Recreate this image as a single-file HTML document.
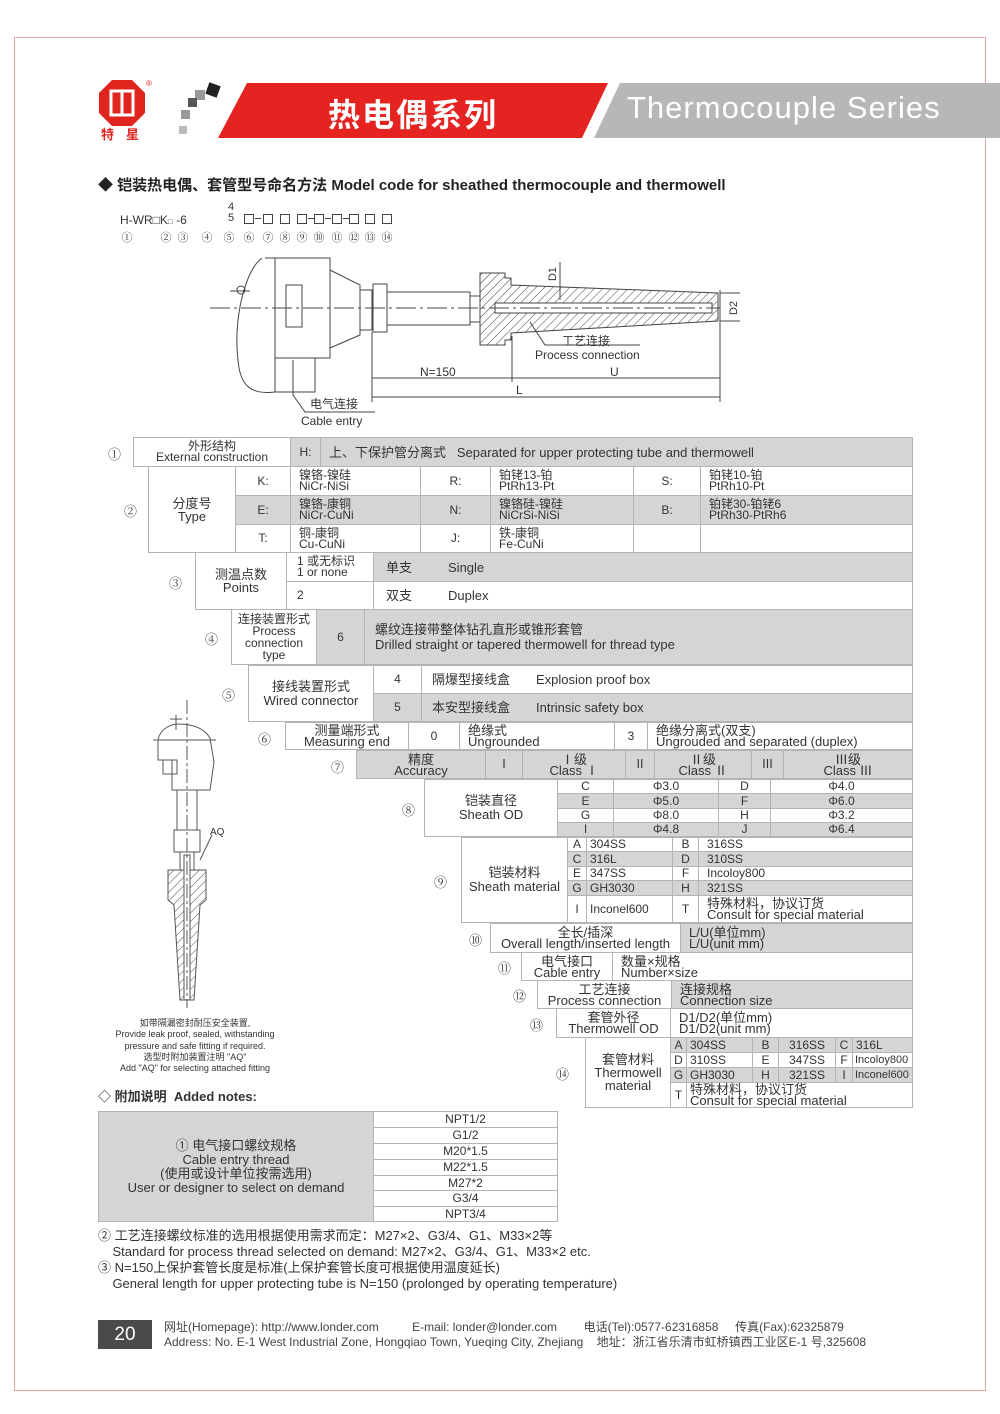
<!DOCTYPE html>
<html><head><meta charset="utf-8">
<style>
*{margin:0;padding:0;box-sizing:border-box}
body{width:1000px;height:1414px;background:#fff;position:relative;overflow:hidden;font-family:"Liberation Sans","Noto Sans CJK SC",sans-serif;color:#333}
.a{position:absolute;white-space:nowrap}
.c{position:absolute;border:1px solid #b4b4b4;font-size:12px;line-height:11px;display:flex;align-items:center;padding-left:8px;white-space:nowrap;background:#fff}
.g{background:#d5d5d5}
.m{justify-content:center;text-align:center;padding-left:0}
.n{position:absolute;font-size:13px;font-family:"DejaVu Serif","Noto Serif CJK SC",serif}
.s{font-size:11px;line-height:11px}
.q{position:absolute;font-size:11px;font-family:"DejaVu Serif","Noto Serif CJK SC",serif;width:16px;text-align:center;top:229px}
.b{position:absolute;top:214px;width:10px;height:10px;border:1px solid #444}
.d{position:absolute;top:218px;width:6px;height:1px;background:#444}
</style></head><body>
<div class="a" style="left:14px;top:37px;width:972px;height:1354px;border:1px solid #e9a8a8"></div>

<!-- logo -->
<svg class="a" style="left:95px;top:76px" width="150" height="70">
<polygon points="17,4 37,4 50,17 50,37 37,50 17,50 4,37 4,17" fill="#e0251f"/>
<rect x="16" y="15" width="22" height="24" fill="none" stroke="#fff" stroke-width="3"/>
<line x1="27" y1="15" x2="27" y2="39" stroke="#fff" stroke-width="3"/>
<text x="51" y="10" font-size="8" fill="#e0251f">®</text>
<rect x="112" y="8" width="12" height="12" fill="#222" transform="rotate(20 118 14)"/>
<rect x="100" y="14" width="10" height="10" fill="#999"/>
<rect x="93" y="22" width="9" height="9" fill="#555"/>
<rect x="86" y="34" width="9" height="9" fill="#999"/>
<rect x="84" y="50" width="8" height="8" fill="#bbb"/>
</svg>
<div class="a" style="left:101px;top:124px;font-size:13px;font-weight:bold;color:#e0251f;letter-spacing:12px">特星</div>
<svg class="a" style="left:0;top:0" width="1000" height="150">
<polygon points="247,83 608,83 582,138 218,138" fill="#e52421"/>
<polygon points="620,83 1000,83 1000,138 594,138" fill="#b7b7b7"/>
</svg>
<div class="a" style="left:328px;top:90px;font-size:32px;font-weight:bold;color:#fff;letter-spacing:2px">热电偶系列</div>
<div class="a" style="left:627px;top:90px;font-size:31px;color:#fff;letter-spacing:1px">Thermocouple Series</div>

<div class="a" style="left:98px;top:174px;font-size:15px;font-weight:bold;color:#222">◆ 铠装热电偶、套管型号命名方法 Model code for sheathed thermocouple and thermowell</div>

<div class="a" style="left:120px;top:213px;font-size:12px">H-WR□K<span style="font-size:8px">□</span> -6</div>
<div class="a" style="left:228px;top:202px;font-size:11px;line-height:11px">4<br>5</div>
<div class="b" style="left:244px"></div>
<div class="d" style="left:255px"></div>
<div class="b" style="left:263px"></div>
<div class="b" style="left:280px"></div>
<div class="b" style="left:297px"></div>
<div class="d" style="left:308px"></div>
<div class="b" style="left:314px"></div>
<div class="d" style="left:325px"></div>
<div class="b" style="left:332px"></div>
<div class="d" style="left:343px"></div>
<div class="b" style="left:349px"></div>
<div class="b" style="left:365px"></div>
<div class="b" style="left:382px"></div>
<div class="q" style="left:119px">①</div>
<div class="q" style="left:158px">②</div>
<div class="q" style="left:175px">③</div>
<div class="q" style="left:199px">④</div>
<div class="q" style="left:221px">⑤</div>
<div class="q" style="left:241px">⑥</div>
<div class="q" style="left:260px">⑦</div>
<div class="q" style="left:277px">⑧</div>
<div class="q" style="left:294px">⑨</div>
<div class="q" style="left:311px">⑩</div>
<div class="q" style="left:329px">⑪</div>
<div class="q" style="left:346px">⑫</div>
<div class="q" style="left:362px">⑬</div>
<div class="q" style="left:379px">⑭</div>

<!-- top drawing -->
<svg class="a" style="left:0;top:0" width="1000" height="440" fill="none" stroke="#444" stroke-width="1">
<defs><pattern id="h" width="6" height="6" patternUnits="userSpaceOnUse" patternTransform="rotate(45)"><line x1="0" y1="0" x2="0" y2="6" stroke="#444"/></pattern></defs>
<path d="M262,258 C245,270 233,320 238,360 C240,385 250,395 275,392"/>
<path d="M265,258 L275,258 L275,392"/>
<rect x="275" y="258" width="55" height="100"/>
<rect x="275" y="358" width="40" height="34"/>
<path d="M330,270 L360,285 L360,335 L330,348"/>
<rect x="360" y="290" width="12" height="40"/>
<rect x="373" y="284" width="14" height="48"/>
<rect x="286" y="285" width="16" height="42"/>
<line x1="230" y1="291" x2="250" y2="291"/>
<circle cx="241" cy="290" r="4"/>
<rect x="387" y="292" width="83" height="33"/>
<rect x="470" y="296" width="10" height="26"/>
<path d="M480,273 L505,273 L505,278 L511,278 L511,285 L718,293 L718,321 L511,333 L511,340 L505,340 L505,345 L480,345 Z" fill="url(#h)"/>
<rect x="495" y="303" width="217" height="10" fill="#fff" stroke="#444"/>
<line x1="210" y1="308" x2="720" y2="308" stroke-dasharray="20,4,3,4"/>
<line x1="372" y1="332" x2="372" y2="402"/>
<line x1="512" y1="336" x2="512" y2="382"/>
<line x1="720" y1="290" x2="720" y2="402"/>
<line x1="372" y1="378" x2="720" y2="378"/>
<line x1="372" y1="397" x2="720" y2="397"/>
<line x1="720" y1="293" x2="740" y2="293"/><line x1="720" y1="321" x2="740" y2="321"/>
<line x1="560" y1="262" x2="560" y2="300"/>
<path d="M530,322 L545,345 L640,345"/>
<path d="M293,360 L293,395 L305,412 L375,412"/>
</svg>
<div class="a" style="left:420px;top:365px;font-size:12px">N=150</div>
<div class="a" style="left:610px;top:365px;font-size:12px">U</div>
<div class="a" style="left:516px;top:383px;font-size:12px">L</div>
<div class="a" style="left:562px;top:332px;font-size:12px">工艺连接</div>
<div class="a" style="left:535px;top:348px;font-size:12px">Process connection</div>
<div class="a" style="left:310px;top:395px;font-size:12px">电气连接</div>
<div class="a" style="left:301px;top:414px;font-size:12px">Cable entry</div>
<div class="a" style="left:546px;top:268px;font-size:11px;transform:rotate(-90deg)">D1</div>
<div class="a" style="left:727px;top:302px;font-size:11px;transform:rotate(-90deg)">D2</div>

<!-- circled numbers -->
<div class="n" style="left:108px;top:444px">①</div>
<div class="n" style="left:124px;top:501px">②</div>
<div class="n" style="left:169px;top:573px">③</div>
<div class="n" style="left:205px;top:629px">④</div>
<div class="n" style="left:222px;top:685px">⑤</div>
<div class="n" style="left:258px;top:729px">⑥</div>
<div class="n" style="left:331px;top:757px">⑦</div>
<div class="n" style="left:402px;top:800px">⑧</div>
<div class="n" style="left:434px;top:872px">⑨</div>
<div class="n" style="left:469px;top:930px">⑩</div>
<div class="n" style="left:498px;top:958px">⑪</div>
<div class="n" style="left:513px;top:986px">⑫</div>
<div class="n" style="left:530px;top:1015px">⑬</div>
<div class="n" style="left:556px;top:1064px">⑭</div>

<!-- row 1 -->
<div class="c m" style="left:133px;top:437px;width:158px;height:30px">外形结构<br>External construction</div>
<div class="c g m" style="left:290px;top:437px;width:31px;height:30px">H:</div>
<div class="c g" style="left:320px;top:437px;width:593px;height:30px;font-size:13px">上、下保护管分离式 &nbsp; Separated for upper protecting tube and thermowell</div>
<!-- row 2 -->
<div class="c m" style="left:148px;top:466px;width:88px;height:87px;font-size:13px;line-height:13px">分度号<br>Type</div>
<div class="c m" style="left:235px;top:466px;width:56px;height:30px">K:</div><div class="c" style="left:290px;top:466px;width:131px;height:30px">镍铬-镍硅<br>NiCr-NiSi</div><div class="c m" style="left:420px;top:466px;width:71px;height:30px">R:</div><div class="c" style="left:490px;top:466px;width:144px;height:30px">铂铑13-铂<br>PtRh13-Pt</div><div class="c m" style="left:633px;top:466px;width:68px;height:30px">S:</div><div class="c" style="left:700px;top:466px;width:213px;height:30px">铂铑10-铂<br>PtRh10-Pt</div>
<div class="c g m" style="left:235px;top:495px;width:56px;height:30px">E:</div><div class="c g" style="left:290px;top:495px;width:131px;height:30px">镍铬-康铜<br>NiCr-CuNi</div><div class="c g m" style="left:420px;top:495px;width:71px;height:30px">N:</div><div class="c g" style="left:490px;top:495px;width:144px;height:30px">镍铬硅-镍硅<br>NiCrSi-NiSi</div><div class="c g m" style="left:633px;top:495px;width:68px;height:30px">B:</div><div class="c g" style="left:700px;top:495px;width:213px;height:30px">铂铑30-铂铑6<br>PtRh30-PtRh6</div>
<div class="c m" style="left:235px;top:524px;width:56px;height:29px">T:</div><div class="c" style="left:290px;top:524px;width:131px;height:29px">铜-康铜<br>Cu-CuNi</div><div class="c m" style="left:420px;top:524px;width:71px;height:29px">J:</div><div class="c" style="left:490px;top:524px;width:144px;height:29px">铁-康铜<br>Fe-CuNi</div><div class="c" style="left:633px;top:524px;width:68px;height:29px"></div><div class="c" style="left:700px;top:524px;width:213px;height:29px"></div>
<!-- row 3 -->
<div class="c m" style="left:195px;top:552px;width:92px;height:58px;font-size:13px;line-height:13px">测温点数<br>Points</div>
<div class="c" style="left:286px;top:552px;width:88px;height:30px;padding-left:10px">1 或无标识<br>1 or none</div>
<div class="c g" style="left:373px;top:552px;width:540px;height:30px;font-size:13px;padding-left:12px">单支<span style="margin-left:36px">Single</span></div>
<div class="c" style="left:286px;top:581px;width:88px;height:29px;padding-left:10px">2</div>
<div class="c" style="left:373px;top:581px;width:540px;height:29px;font-size:13px;padding-left:12px">双支<span style="margin-left:36px">Duplex</span></div>
<!-- row 4 -->
<div class="c m" style="left:231px;top:609px;width:86px;height:56px;line-height:12px;font-size:12px">连接装置形式<br>Process<br>connection<br>type</div>
<div class="c g m" style="left:316px;top:609px;width:49px;height:56px">6</div>
<div class="c g" style="left:364px;top:609px;width:549px;height:56px;font-size:13px;line-height:15px;padding-left:10px">螺纹连接带整体钻孔直形或锥形套管<br>Drilled straight or tapered thermowell for thread type</div>
<!-- row 5 -->
<div class="c m" style="left:248px;top:665px;width:126px;height:57px;font-size:13px;line-height:14px">接线装置形式<br>Wired connector</div>
<div class="c m" style="left:373px;top:665px;width:49px;height:29px">4</div>
<div class="c" style="left:421px;top:665px;width:492px;height:29px;font-size:13px;padding-left:10px">隔爆型接线盒<span style="margin-left:26px">Explosion proof box</span></div>
<div class="c g m" style="left:373px;top:693px;width:49px;height:29px">5</div>
<div class="c g" style="left:421px;top:693px;width:492px;height:29px;font-size:13px;padding-left:10px">本安型接线盒<span style="margin-left:26px">Intrinsic safety box</span></div>
<!-- row 6 -->
<div class="c m" style="left:285px;top:722px;width:124px;height:28px;font-size:13px">测量端形式<br>Measuring end</div>
<div class="c m" style="left:408px;top:722px;width:52px;height:28px">0</div>
<div class="c" style="left:459px;top:722px;width:156px;height:28px;font-size:13px">绝缘式<br>Ungrounded</div>
<div class="c m" style="left:614px;top:722px;width:34px;height:28px">3</div>
<div class="c" style="left:647px;top:722px;width:266px;height:28px;font-size:13px">绝缘分离式(双支)<br>Ungrouded and separated (duplex)</div>
<!-- row 7 -->
<div class="c g m" style="left:356px;top:750px;width:130px;height:29px;font-size:13px">精度<br>Accuracy</div>
<div class="c g m" style="left:485px;top:750px;width:38px;height:29px">Ⅰ</div>
<div class="c g m" style="left:522px;top:750px;width:104px;height:29px;font-size:13px">Ⅰ级<br>Class Ⅰ</div>
<div class="c g m" style="left:625px;top:750px;width:30px;height:29px">Ⅱ</div>
<div class="c g m" style="left:654px;top:750px;width:98px;height:29px;font-size:13px">Ⅱ级<br>Class Ⅱ</div>
<div class="c g m" style="left:751px;top:750px;width:33px;height:29px">Ⅲ</div>
<div class="c g m" style="left:783px;top:750px;width:130px;height:29px;font-size:13px">Ⅲ级<br>Class Ⅲ</div>
<!-- row 8 -->
<div class="c m" style="left:424px;top:779px;width:134px;height:58px;font-size:13px;line-height:14px">铠装直径<br>Sheath OD</div>
<div class="c m" style="left:557px;top:779px;width:57px;height:15px">C</div><div class="c m" style="left:613px;top:779px;width:106px;height:15px">Φ3.0</div><div class="c m" style="left:718px;top:779px;width:53px;height:15px">D</div><div class="c m" style="left:770px;top:779px;width:143px;height:15px">Φ4.0</div>
<div class="c g m" style="left:557px;top:793px;width:57px;height:16px">E</div><div class="c g m" style="left:613px;top:793px;width:106px;height:16px">Φ5.0</div><div class="c g m" style="left:718px;top:793px;width:53px;height:16px">F</div><div class="c g m" style="left:770px;top:793px;width:143px;height:16px">Φ6.0</div>
<div class="c m" style="left:557px;top:808px;width:57px;height:15px">G</div><div class="c m" style="left:613px;top:808px;width:106px;height:15px">Φ8.0</div><div class="c m" style="left:718px;top:808px;width:53px;height:15px">H</div><div class="c m" style="left:770px;top:808px;width:143px;height:15px">Φ3.2</div>
<div class="c g m" style="left:557px;top:822px;width:57px;height:15px">I</div><div class="c g m" style="left:613px;top:822px;width:106px;height:15px">Φ4.8</div><div class="c g m" style="left:718px;top:822px;width:53px;height:15px">J</div><div class="c g m" style="left:770px;top:822px;width:143px;height:15px">Φ6.4</div>
<!-- row 9 -->
<div class="c m" style="left:461px;top:837px;width:107px;height:86px;font-size:13px;line-height:14px">铠装材料<br>Sheath material</div>
<div class="c m" style="left:567px;top:837px;width:20px;height:15px">A</div><div class="c" style="left:586px;top:837px;width:87px;height:15px;padding-left:3px">304SS</div><div class="c m" style="left:672px;top:837px;width:27px;height:15px">B</div><div class="c" style="left:698px;top:837px;width:215px;height:15px">316SS</div>
<div class="c g m" style="left:567px;top:851px;width:20px;height:16px">C</div><div class="c g" style="left:586px;top:851px;width:87px;height:16px;padding-left:3px">316L</div><div class="c g m" style="left:672px;top:851px;width:27px;height:16px">D</div><div class="c g" style="left:698px;top:851px;width:215px;height:16px">310SS</div>
<div class="c m" style="left:567px;top:866px;width:20px;height:15px">E</div><div class="c" style="left:586px;top:866px;width:87px;height:15px;padding-left:3px">347SS</div><div class="c m" style="left:672px;top:866px;width:27px;height:15px">F</div><div class="c" style="left:698px;top:866px;width:215px;height:15px">Incoloy800</div>
<div class="c g m" style="left:567px;top:880px;width:20px;height:16px">G</div><div class="c g" style="left:586px;top:880px;width:87px;height:16px;padding-left:3px">GH3030</div><div class="c g m" style="left:672px;top:880px;width:27px;height:16px">H</div><div class="c g" style="left:698px;top:880px;width:215px;height:16px">321SS</div>
<div class="c m" style="left:567px;top:895px;width:20px;height:28px">I</div><div class="c" style="left:586px;top:895px;width:87px;height:28px;padding-left:3px">Inconel600</div><div class="c m" style="left:672px;top:895px;width:27px;height:28px">T</div><div class="c" style="left:698px;top:895px;width:215px;height:28px;font-size:13px">特殊材料，协议订货<br>Consult for special material</div>
<!-- row 10-13 -->
<div class="c m" style="left:490px;top:923px;width:191px;height:30px;font-size:13px">全长/插深<br>Overall length/inserted length</div>
<div class="c g" style="left:680px;top:923px;width:233px;height:30px;font-size:13px">L/U(单位mm)<br>L/U(unit mm)</div>
<div class="c m" style="left:521px;top:952px;width:92px;height:29px;font-size:13px">电气接口<br>Cable entry</div>
<div class="c" style="left:612px;top:952px;width:301px;height:29px;font-size:13px">数量×规格<br>Number×size</div>
<div class="c m" style="left:537px;top:980px;width:135px;height:29px;font-size:13px">工艺连接<br>Process connection</div>
<div class="c g" style="left:671px;top:980px;width:242px;height:29px;font-size:13px">连接规格<br>Connection size</div>
<div class="c m" style="left:556px;top:1008px;width:115px;height:30px;font-size:13px">套管外径<br>Thermowell OD</div>
<div class="c" style="left:670px;top:1008px;width:243px;height:30px;font-size:13px">D1/D2(单位mm)<br>D1/D2(unit mm)</div>
<!-- row 14 -->
<div class="c m" style="left:585px;top:1037px;width:86px;height:71px;font-size:13px;line-height:13px">套管材料<br>Thermowell<br>material</div>
<div class="c g m" style="left:670px;top:1037px;width:17px;height:16px">A</div><div class="c g" style="left:686px;top:1037px;width:67px;height:16px;padding-left:3px">304SS</div><div class="c g m" style="left:752px;top:1037px;width:27px;height:16px">B</div><div class="c g m" style="left:778px;top:1037px;width:58px;height:16px">316SS</div><div class="c g m" style="left:835px;top:1037px;width:18px;height:16px">C</div><div class="c g" style="left:852px;top:1037px;width:61px;height:16px;padding-left:3px">316L</div>
<div class="c m" style="left:670px;top:1052px;width:17px;height:16px">D</div><div class="c" style="left:686px;top:1052px;width:67px;height:16px;padding-left:3px">310SS</div><div class="c m" style="left:752px;top:1052px;width:27px;height:16px">E</div><div class="c m" style="left:778px;top:1052px;width:58px;height:16px">347SS</div><div class="c m" style="left:835px;top:1052px;width:18px;height:16px">F</div><div class="c s" style="left:852px;top:1052px;width:61px;height:16px;padding-left:2px">Incoloy800</div>
<div class="c g m" style="left:670px;top:1067px;width:17px;height:16px">G</div><div class="c g" style="left:686px;top:1067px;width:67px;height:16px;padding-left:3px">GH3030</div><div class="c g m" style="left:752px;top:1067px;width:27px;height:16px">H</div><div class="c g m" style="left:778px;top:1067px;width:58px;height:16px">321SS</div><div class="c g m" style="left:835px;top:1067px;width:18px;height:16px">I</div><div class="c g s" style="left:852px;top:1067px;width:61px;height:16px;padding-left:2px">Inconel600</div>
<div class="c m" style="left:670px;top:1082px;width:17px;height:26px">T</div><div class="c" style="left:686px;top:1082px;width:227px;height:26px;font-size:13px;padding-left:3px">特殊材料，协议订货<br>Consult for special material</div>

<!-- left vertical drawing -->
<svg class="a" style="left:0;top:0" width="300" height="1020" fill="none" stroke="#555" stroke-width="1">
<defs><pattern id="h2" width="6" height="6" patternUnits="userSpaceOnUse" patternTransform="rotate(45)"><line x1="0" y1="0" x2="0" y2="6" stroke="#555"/></pattern></defs>
<line x1="176" y1="715" x2="176" y2="730"/><line x1="170" y1="719" x2="182" y2="719"/>
<path d="M158,740 C160,728 172,724 178,724 C192,724 204,728 210,738 L214,762 L210,790 L172,790 L172,760 L158,760 Z"/>
<line x1="153" y1="740" x2="216" y2="740"/>
<rect x="163" y="760" width="14" height="14"/>
<rect x="177" y="790" width="20" height="40"/>
<rect x="174" y="830" width="26" height="22"/>
<rect x="180" y="852" width="14" height="18"/>
<path d="M168,870 L206,870 L206,900 L200,905 L194,1000 L180,1000 L174,905 L168,900 Z" fill="url(#h2)"/>
<rect x="184" y="855" width="6" height="145" fill="#fff"/>
<line x1="187" y1="700" x2="187" y2="1008" stroke-dasharray="14,3,3,3"/>
<line x1="200" y1="860" x2="212" y2="835"/>
</svg>
<div class="a" style="left:210px;top:827px;font-size:10px">AQ</div>
<div class="a" style="left:90px;top:1018px;width:210px;text-align:center;font-size:9px;line-height:11.3px;color:#333">如带隔漏密封耐压安全装置,<br>Provide leak proof, sealed, withstanding<br>pressure and safe fitting if required.<br>选型时附加装置注明 "AQ"<br>Add "AQ" for selecting attached fitting</div>

<div class="a" style="left:98px;top:1086px;font-size:13px;font-weight:bold;color:#333">◇ 附加说明 &nbsp;Added notes:</div>

<!-- notes table -->
<div class="c g m" style="left:98px;top:1111px;width:276px;height:111px;font-size:13px;line-height:14px">① 电气接口螺纹规格<br>Cable entry thread<br>(使用或设计单位按需选用)<br>User or designer to select on demand</div>
<div class="c m" style="left:373px;top:1111px;width:185px;height:17px">NPT1/2</div>
<div class="c m" style="left:373px;top:1127px;width:185px;height:17px">G1/2</div>
<div class="c m" style="left:373px;top:1143px;width:185px;height:17px">M20*1.5</div>
<div class="c m" style="left:373px;top:1159px;width:185px;height:17px">M22*1.5</div>
<div class="c m" style="left:373px;top:1175px;width:185px;height:16px">M27*2</div>
<div class="c m" style="left:373px;top:1190px;width:185px;height:17px">G3/4</div>
<div class="c m" style="left:373px;top:1206px;width:185px;height:16px">NPT3/4</div>

<div class="a" style="left:98px;top:1228px;font-size:13px;line-height:16px">② 工艺连接螺纹标准的选用根据使用需求而定：M27×2、G3/4、G1、M33×2等<br>&nbsp;&nbsp;&nbsp;&nbsp;Standard for process thread selected on demand: M27×2、G3/4、G1、M33×2 etc.<br>③ N=150上保护套管长度是标准(上保护套管长度可根据使用温度延长)<br>&nbsp;&nbsp;&nbsp;&nbsp;General length for upper protecting tube is N=150 (prolonged by operating temperature)</div>

<!-- footer -->
<div class="a" style="left:98px;top:1320px;width:54px;height:29px;background:#4a4a4a;color:#fff;font-size:19px;text-align:center;line-height:29px">20</div>
<div class="a" style="left:164px;top:1320px;font-size:12px;line-height:15px;color:#444">网址(Homepage): http://www.londer.com &nbsp;&nbsp;&nbsp;&nbsp;&nbsp;&nbsp;&nbsp;&nbsp;&nbsp;E-mail: londer@londer.com &nbsp;&nbsp;&nbsp;&nbsp;&nbsp;&nbsp;&nbsp;电话(Tel):0577-62316858 &nbsp;&nbsp;&nbsp;&nbsp;传真(Fax):62325879<br>Address: No. E-1 West Industrial Zone, Hongqiao Town, Yueqing City, Zhejiang &nbsp;&nbsp;&nbsp;地址：浙江省乐清市虹桥镇西工业区E-1 号,325608</div>
</body></html>
